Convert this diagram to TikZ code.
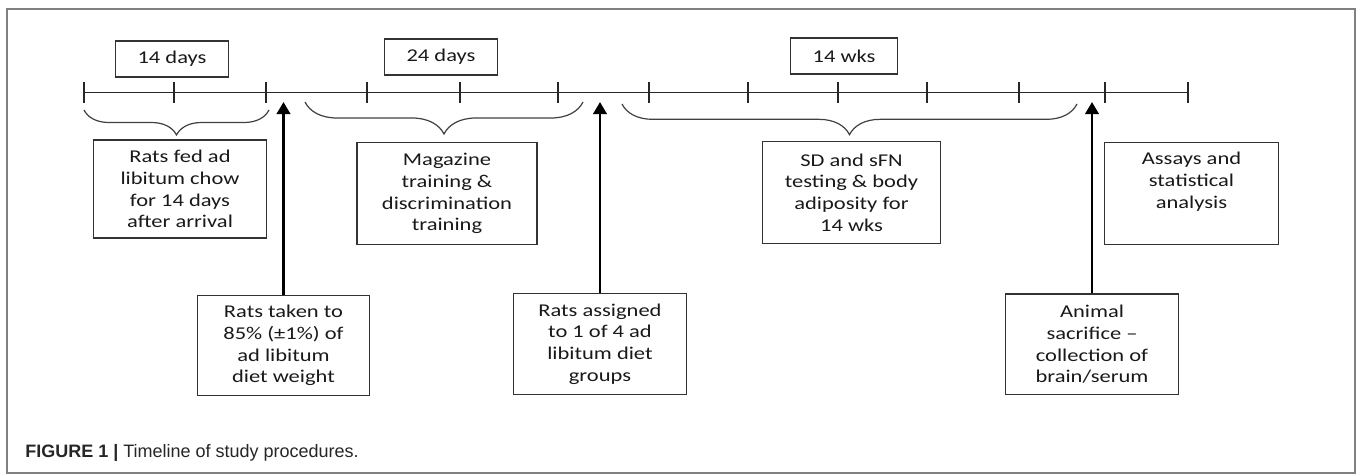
\documentclass[tikz,border=0pt]{standalone}
\usepackage{fontspec}
\setmainfont{Carlito}[FakeStretch=1.25]
\newfontfamily\capfont{Liberation Sans}
\usetikzlibrary{arrows.meta,decorations.pathreplacing}

\tikzset{
    boxtext/.style={font=\fontsize{13.5}{16.3}\selectfont, text=black!90},
    durbox/.style={boxtext, draw=black!80, line width=0.9pt, inner xsep=16.5pt, minimum height=27pt},
    stagebox/.style={boxtext, draw=black!80, line width=0.9pt, align=center, minimum width=130pt, minimum height=77pt},
    eventbox/.style={stagebox, minimum width=129.5pt, minimum height=75.5pt},
    tickmark/.style={line width=1.4pt, black!85},
    riser/.style={line width=2pt, -{Triangle[width=10pt,length=9pt]}},
    periodbrace/.style={decorate, decoration={brace, mirror, amplitude=#1}, line width=0.9pt, black!75},
}

\begin{document}
\begin{tikzpicture}[x=0.75pt, y=-0.75pt]
        \useasboundingbox (0,0) rectangle (1357,475);
        \draw[gray, line width=1.5pt] (7,9) rectangle (1355,473);

        % Timeline and ticks
        \draw[line width=1pt, black!85] (84,92.5) -- (1188,92.5);
        \foreach \t in {84,174,266,367,460,558,649,748,838,927,1019,1105,1188}
            \draw[tickmark] (\t,82) -- (\t,103);

        % Durations
        \node[durbox] (d14) at (172,59) {14 days};
        \node[durbox] (d24) at (441,57) {24 days};
        \node[durbox] (w14) at (844,56) {14 wks};

        % Periods (braces)
        \coordinate (chowL) at (84,110);
        \coordinate (chowR) at (269,110);
        \coordinate (trainL) at (305,102);
        \coordinate (trainR) at (583,102);
        \coordinate (testL) at (622,104);
        \coordinate (testR) at (1077,104);
        \draw[periodbrace=18.75pt] (chowL) -- (chowR);
        \draw[periodbrace=24pt] (trainL) -- (trainR);
        \draw[periodbrace=23pt] (testL) -- (testR);

        \node[stagebox, minimum height=73.5pt] (chow) at (180,189) {Rats fed ad\\libitum chow\\for 14 days\\after arrival};
        \node[stagebox, minimum width=135pt] (train) at (447,193.5) {Magazine\\training \&\\discrimination\\training};
        \node[stagebox, minimum width=134pt] (test) at (851.5,192.5) {SD and sFN\\testing \& body\\adiposity for\\14 wks};
        \node[stagebox, text depth=20pt] (assay) at (1191.5,193.5) {Assays and\\statistical\\analysis};

        % Events (arrows)
        \coordinate (taken tip) at (283.5,102);
        \coordinate (assign tip) at (600,102);
        \coordinate (kill tip) at (1092,102);

        \node[eventbox] (taken) at (283.5,345.5) {Rats taken to\\85\% (±1\%) of\\ad libitum\\diet weight};
        \node[eventbox] (assign) at (600,344) {Rats assigned\\to 1 of 4 ad\\libitum diet\\groups};
        \node[eventbox] (kill) at (1092,344.3) {Animal\\sacrifice –\\collection of\\brain/serum};

        \draw[riser] (taken) -- (taken tip);
        \draw[riser] (assign) -- (assign tip);
        \draw[riser] (kill) -- (kill tip);

        % Caption
        \node[anchor=base west, inner sep=0pt, text=black!85, font=\capfont\fontsize{13.5}{16}\selectfont] (caption) at (25,457)
            {\textbf{FIGURE 1 |} Timeline of study procedures.};
    \end{tikzpicture}
\end{document}
